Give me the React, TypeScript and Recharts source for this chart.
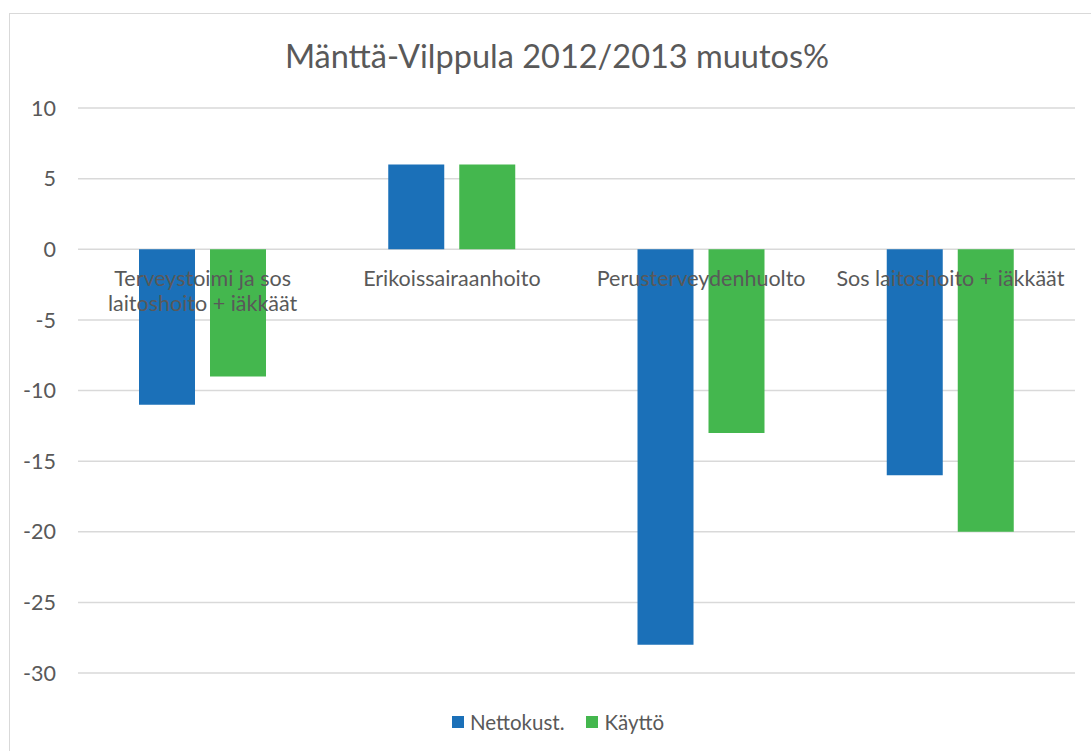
import { Bar, BarChart, CartesianGrid, Legend, ReferenceDot, XAxis, YAxis } from "recharts";

const FONT = "Lato, 'Noto Sans', sans-serif";
const TEXT = "#595959";
const GRID = "#d9d9d9";
const BLUE = "#1b70b8";
const GREEN = "#44b74e";

const categories = [
  "Terveystoimi ja sos laitoshoito + iäkkäät",
  "Erikoissairaanhoito",
  "Perusterveydenhuolto",
  "Sos laitoshoito + iäkkäät",
];
// category labels as wrapped in the original
const categoryLines = [
  ["Terveystoimi ja sos", "laitoshoito + iäkkäät"],
  ["Erikoissairaanhoito"],
  ["Perusterveydenhuolto"],
  ["Sos laitoshoito + iäkkäät"],
];
const nettokust = [-11, 6, -28, -16];
const kaytto = [-9, 6, -13, -20];
const yTicks = [-30, -25, -20, -15, -10, -5, 0, 5, 10];

const data = categories.map((name, i) => ({
  name,
  nettokust: nettokust[i],
  kaytto: kaytto[i],
}));

function CategoryLabel(props: { viewBox?: { x: number; y: number }; lines: string[] }) {
  const vb = props.viewBox;
  if (!vb) return null;
  return (
    <text
      x={vb.x}
      y={vb.y + 37}
      textAnchor="middle"
      fill={TEXT}
      style={{ fontFamily: FONT, fontSize: 21.5 }}
    >
      {props.lines.map((l, i) => (
        <tspan key={i} x={vb.x} dy={i === 0 ? 0 : 25}>
          {l}
        </tspan>
      ))}
    </text>
  );
}

function LegendContent() {
  const items = [
    { label: "Nettokust.", color: BLUE },
    { label: "Käyttö", color: GREEN },
  ];
  return (
    <div
      style={{
        display: "flex",
        justifyContent: "center",
        alignItems: "center",
        gap: 22,
        height: 26,
        fontFamily: FONT,
        fontSize: 20.5,
        color: TEXT,
      }}
    >
      {items.map((it) => (
        <div key={it.label} style={{ display: "flex", alignItems: "center", gap: 6 }}>
          <span style={{ width: 12, height: 12, background: it.color, display: "inline-block" }} />
          <span>{it.label}</span>
        </div>
      ))}
    </div>
  );
}

export default function App() {
  return (
    <div
      style={{
        position: "absolute",
        left: 0,
        top: 0,
        width: 1091,
        height: 751,
        overflow: "hidden",
        background: "#fff",
      }}
    >
      <div
        style={{
          position: "absolute",
          left: 9,
          top: 13,
          width: 1100,
          height: 800,
          border: `1.5px solid ${GRID}`,
        }}
      />
      <div
        style={{
          position: "absolute",
          left: 0,
          top: 35,
          width: 1114,
          textAlign: "center",
          fontFamily: FONT,
          fontSize: 32.5,
          color: TEXT,
          lineHeight: "42px",
        }}
      >
        Mänttä-Vilppula 2012/2013 muutos%
      </div>
      <div style={{ position: "absolute", left: 0, top: 0 }}>
        <BarChart
          width={1091}
          height={751}
          data={data}
          margin={{ top: 108, right: 16, left: 0, bottom: 52 }}
          barSize={56}
          barGap={15}
        >
          <CartesianGrid vertical={false} stroke={GRID} strokeWidth={1.5} />
          <XAxis dataKey="name" hide />
          <YAxis
            domain={[-30, 10]}
            ticks={yTicks}
            interval={0}
            width={78}
            axisLine={false}
            tickLine={false}
            tickSize={0}
            tickMargin={22}
            tick={{ fill: TEXT, fontSize: 21.5, fontFamily: FONT }}
          />
          <Legend
            content={<LegendContent />}
            verticalAlign="bottom"
            wrapperStyle={{ left: 9, width: 1098, top: 709, bottom: "auto" }}
          />
          <Bar dataKey="nettokust" name="Nettokust." fill={BLUE} isAnimationActive={false} />
          <Bar dataKey="kaytto" name="Käyttö" fill={GREEN} isAnimationActive={false} />
          {categories.map((c, i) => (
            <ReferenceDot
              key={c}
              x={c}
              y={0}
              r={0}
              fill="none"
              stroke="none"
              label={(p: { viewBox?: { x: number; y: number } }) => (
                <CategoryLabel viewBox={p.viewBox} lines={categoryLines[i]} />
              )}
            />
          ))}
        </BarChart>
      </div>
    </div>
  );
}
